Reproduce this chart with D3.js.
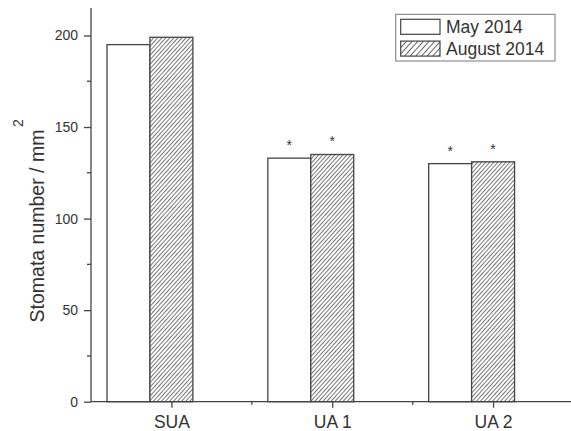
<!DOCTYPE html>
<html>
<head>
<meta charset="utf-8">
<script src="https://cdn.jsdelivr.net/npm/d3@7"></script>
<style>
  html, body { margin: 0; padding: 0; background: #fff; }
  svg { display: block; }
  text { font-family: "Liberation Sans", Arial, sans-serif; fill: #333; }
</style>
</head>
<body>
<svg id="chart" width="571" height="431"></svg>
<script>
const categories = ["SUA", "UA 1", "UA 2"];
const seriesNames = ["May 2014", "August 2014"];
const may2014 = [195, 133, 130];
const august2014 = [199, 135, 131];
const mayStar = [false, true, true];
const augustStar = [false, true, true];
const yTicks = [0, 50, 100, 150, 200];
const yMinorTicks = [25, 75, 125, 175];
const yLabel = "Stomata number / mm";
const yLabelSup = "2";

const svg = d3.select("#chart");
const W = 571, H = 431;
const mLeft = 91, mBottom = 401.7, mTop = 8, mRight = 573.5;
const lineColor = "#444";

const x = d3.scalePoint().domain(categories).range([mLeft, mRight]).padding(0.5);
const y = d3.scaleLinear().domain([0, 215]).range([mBottom, mTop]);
const step = x.step();
const bw = step * 0.267;

// hatch patterns
const defs = svg.append("defs");
function hatch(id, s, sw, col) {
  const p = defs.append("pattern")
    .attr("id", id).attr("patternUnits", "userSpaceOnUse")
    .attr("width", s).attr("height", s)
    .attr("patternTransform", "rotate(42)");
  p.append("rect").attr("width", s).attr("height", s).attr("fill", "#fff");
  p.append("line").attr("x1", s / 2).attr("y1", 0).attr("x2", s / 2).attr("y2", s)
    .attr("stroke", col).attr("stroke-width", sw);
}
hatch("hatch", 3.0, 0.8, "#555");
hatch("hatchL", 4.2, 0.9, "#555");

// bars
const data = categories.map((c, i) => ({ c, may: may2014[i], aug: august2014[i], ms: mayStar[i], as: augustStar[i] }));
const g = svg.append("g");
g.selectAll("rect.may").data(data).join("rect").attr("class", "may")
  .attr("x", d => x(d.c) - 1.5 * bw).attr("y", d => y(d.may))
  .attr("width", bw).attr("height", d => mBottom - y(d.may))
  .attr("fill", "#fff").attr("stroke", lineColor).attr("stroke-width", 1.3);
g.selectAll("rect.aug").data(data).join("rect").attr("class", "aug")
  .attr("x", d => x(d.c) - 0.5 * bw).attr("y", d => y(d.aug))
  .attr("width", bw).attr("height", d => mBottom - y(d.aug))
  .attr("fill", "url(#hatch)").attr("stroke", lineColor).attr("stroke-width", 1.3);

// asterisks
g.selectAll("text.ms").data(data.filter(d => d.ms)).join("text").attr("class", "ms")
  .attr("x", d => x(d.c) - bw).attr("y", d => y(d.may) - 8)
  .attr("text-anchor", "middle").attr("font-size", 14).text("*");
g.selectAll("text.as").data(data.filter(d => d.as)).join("text").attr("class", "as")
  .attr("x", d => x(d.c)).attr("y", d => y(d.aug) - 8)
  .attr("text-anchor", "middle").attr("font-size", 14).text("*");

// y axis
const yAxis = svg.append("g").attr("transform", `translate(${mLeft},0)`)
  .call(d3.axisLeft(y).tickValues(yTicks).tickSize(7).tickPadding(6));
yAxis.select(".domain").attr("d", `M0,${mTop}V${mBottom}`);
yAxis.selectAll(".tick text").attr("font-size", 14).attr("fill", "#333")
  .attr("font-family", "Liberation Sans, Arial, sans-serif");
yAxis.selectAll("path, line").attr("stroke", lineColor).attr("stroke-width", 1.3);
yAxis.selectAll("line.minor").data(yMinorTicks).join("line").attr("class", "minor")
  .attr("x1", -4).attr("x2", 0).attr("y1", d => y(d)).attr("y2", d => y(d))
  .attr("stroke", lineColor).attr("stroke-width", 1.3);

// x axis
const xAxis = svg.append("g").attr("transform", `translate(0,${mBottom})`)
  .call(d3.axisBottom(x).tickSize(6).tickPadding(8));
xAxis.select(".domain").attr("d", `M${mLeft},0H${W}`);
xAxis.selectAll(".tick text").attr("font-size", 17.5).attr("fill", "#333")
  .attr("font-family", "Liberation Sans, Arial, sans-serif");
xAxis.selectAll("path, line").attr("stroke", lineColor).attr("stroke-width", 1.3);
const xMinor = categories.slice(0, -1).map((c, i) => (x(c) + x(categories[i + 1])) / 2);
xAxis.selectAll("line.minor").data(xMinor).join("line").attr("class", "minor")
  .attr("x1", d => d).attr("x2", d => d).attr("y1", 0).attr("y2", 3)
  .attr("stroke", lineColor).attr("stroke-width", 1.3);

// y label
svg.append("text")
  .attr("transform", "translate(44,226) rotate(-90)")
  .attr("text-anchor", "middle").attr("font-size", 19.5).text(yLabel);
svg.append("text")
  .attr("transform", "translate(23,123) rotate(-90)")
  .attr("text-anchor", "middle").attr("font-size", 14).text(yLabelSup);

// legend
const lg = svg.append("g");
lg.append("rect").attr("x", 395.7).attr("y", 14.3).attr("width", 159.3).attr("height", 46.7)
  .attr("fill", "#fff").attr("stroke", "#777").attr("stroke-width", 1);
const fills = ["#fff", "url(#hatchL)"];
seriesNames.forEach((s, i) => {
  const yy = 19.3 + i * 21.8;
  lg.append("rect").attr("x", 400.7).attr("y", yy).attr("width", 39.3).attr("height", 15)
    .attr("fill", fills[i]).attr("stroke", lineColor).attr("stroke-width", 1.2);
  lg.append("text").attr("x", 446).attr("y", yy + 13.5).attr("font-size", 17.5).text(s);
});
</script>
</body>
</html>
